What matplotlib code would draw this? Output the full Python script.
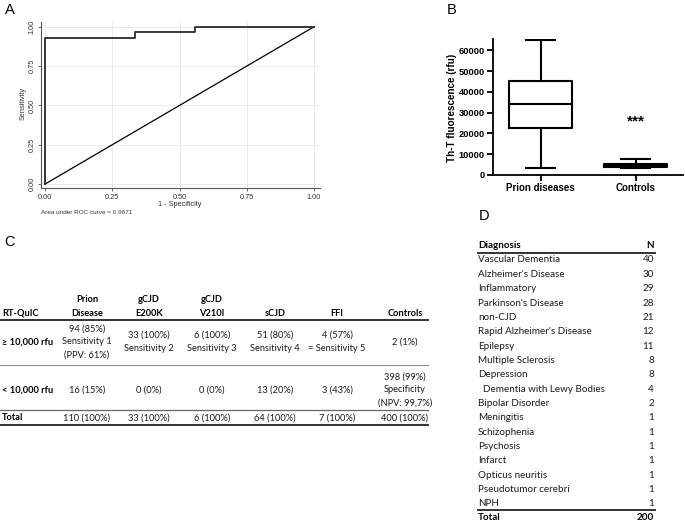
import matplotlib
matplotlib.use("Agg")
import matplotlib.pyplot as plt
import numpy as np

# ---------------- data ----------------
# Panel A: ROC curve
roc_fpr = [0.0, 0.0, 0.333, 0.333, 0.556, 0.556, 1.0]
roc_tpr = [0.0, 0.927, 0.927, 0.964, 0.964, 1.0, 1.0]
ref_x = [0.0, 1.0]
ref_y = [0.0, 1.0]
roc_ticks = [0.0, 0.25, 0.5, 0.75, 1.0]
auc_text = "Area under ROC curve = 0.9671"

# Panel B: box plot summary
box_labels = ["Prion diseases", "Controls"]
box_whislo = [3500, 3300]
box_q1 = [22700, 3800]
box_med = [34100, 4600]
box_q3 = [45100, 5400]
box_whishi = [64900, 7700]
box_yticks = [0, 10000, 20000, 30000, 40000, 50000, 60000]
sig_label = "***"
sig_value = 25600

# Panel C: table
c_header_top = ["", "Prion", "gCJD", "gCJD", "", "", ""]
c_header_bottom = ["RT-QuIC", "Disease", "E200K", "V210I", "sCJD", "FFI", "Controls"]
c_row_labels = ["\u2265 10,000 rfu", "< 10,000 rfu", "Total"]
c_row1 = ["94 (85%)\nSensitivity 1\n(PPV: 61%)", "33 (100%)\nSensitivity 2",
          "6 (100%)\nSensitivity 3", "51 (80%)\nSensitivity 4",
          "4 (57%)\n= Sensitivity 5", "2 (1%)"]
c_row2 = ["16 (15%)", "0 (0%)", "0 (0%)", "13 (20%)", "3 (43%)",
          "398 (99%)\nSpecificity\n(NPV: 99,7%)"]
c_total = ["110 (100%)", "33 (100%)", "6 (100%)", "64 (100%)", "7 (100%)", "400 (100%)"]

# Panel D: table
d_header = ["Diagnosis", "N"]
d_diagnosis = ["Vascular Dementia", "Alzheimer's Disease", "Inflammatory",
               "Parkinson's Disease", "non-CJD", "Rapid Alzheimer's Disease",
               "Epilepsy", "Multiple Sclerosis", "Depression",
               "  Dementia with Lewy Bodies", "Bipolar Disorder", "Meningitis",
               "Schizophenia", "Psychosis", "Infarct", "Opticus neuritis",
               "Pseudotumor cerebri", "NPH"]
d_n = [40, 30, 29, 28, 21, 12, 11, 8, 8, 4, 2, 1, 1, 1, 1, 1, 1, 1]
d_total_label = "Total"
d_total = 200

panel_labels = ["A", "B", "C", "D"]

# ---------------- figure ----------------
W, H = 685, 522
fig = plt.figure(figsize=(W / 100, H / 100), dpi=100)
ov = fig.add_axes([0, 0, 1, 1])
ov.set_xlim(0, W)
ov.set_ylim(H, 0)
ov.axis("off")


def ax_px(l, t, r, b):
    return fig.add_axes([l / W, 1 - b / H, (r - l) / W, (b - t) / H])


arial = "Liberation Sans"
calibri = "Lato"

# panel labels
for lab, (px, py) in zip(panel_labels, [(10, 10), (452, 10), (10, 242), (484, 216)]):
    ov.text(px, py, lab, fontsize=10.5, family=arial, ha="center", va="center")

# ---------------- Panel A ----------------
axA = ax_px(41, 22, 320, 188)
axA.set_xlim(-0.015, 1.022)
axA.set_ylim(-0.025, 1.03)
axA.plot(ref_x, ref_y, color="black", lw=0.9, zorder=3)
axA.plot(roc_fpr, roc_tpr, color="#2a2a2a", lw=1.3, zorder=4)
axA.set_xticks(roc_ticks)
axA.set_yticks(roc_ticks)
axA.set_xticklabels(["%.2f" % t for t in roc_ticks], family=arial)
axA.set_yticklabels(["%.2f" % t for t in roc_ticks], family=arial,
                    rotation=90, va="center")
axA.grid(True, color="#e8e8e8", lw=0.6)
axA.set_axisbelow(True)
for s in ["top", "right"]:
    axA.spines[s].set_visible(False)
for s in ["left", "bottom"]:
    axA.spines[s].set_color("#555555")
    axA.spines[s].set_linewidth(0.8)
axA.tick_params(labelsize=5.3, length=2.5, width=0.6, color="#555555", pad=1.5,
                labelcolor="#333333")
ov.text(180, 204, "1 - Specificity", fontsize=5.3, family=arial, ha="center",
        va="center", color="#333333")
ov.text(23, 103, "Sensitivity", fontsize=5.3, family=arial, ha="center",
        va="center", rotation=90, color="#333333")
ov.text(41, 213, auc_text, fontsize=4.6, family=arial, ha="left", va="center",
        color="#333333")

# ---------------- Panel B ----------------
axB = ax_px(493, 39, 683, 175)
stats = []
for i in range(len(box_labels)):
    stats.append(dict(label=box_labels[i], whislo=box_whislo[i], q1=box_q1[i],
                      med=box_med[i], q3=box_q3[i], whishi=box_whishi[i]))
lw = 1.5
axB.bxp(stats, positions=[1, 2], widths=0.67, capwidths=0.3, showfliers=False,
        boxprops=dict(color="black", lw=lw), whiskerprops=dict(color="black", lw=lw),
        capprops=dict(color="black", lw=lw), medianprops=dict(color="black", lw=lw))
axB.set_xlim(0.5, 2.5)
axB.set_ylim(0, 65500)
axB.set_yticks(box_yticks)
axB.set_yticklabels([str(v) for v in box_yticks], family=arial, fontweight="bold",
                    fontsize=6.7)
axB.set_xticklabels(box_labels, family=arial, fontweight="bold", fontsize=7.0)
for s in ["top", "right"]:
    axB.spines[s].set_visible(False)
for s in ["left", "bottom"]:
    axB.spines[s].set_linewidth(1.3)
axB.tick_params(length=4, width=1.3, pad=2)
axB.text(2, sig_value, sig_label, fontsize=11, fontweight="bold", family=arial,
         ha="center", va="center")
ov.text(452, 108, "Th-T fluorescence (rfu)", fontsize=7.1, fontweight="bold",
        family=arial, ha="center", va="center", rotation=90)

# ---------------- Panel C ----------------
c_x = [2, 87, 149, 212, 275, 337, 405]
fs = 6.7
ls = 1.55
for i in range(len(c_header_bottom)):
    ha = "left" if i == 0 else "center"
    if c_header_top[i]:
        ov.text(c_x[i], 299, c_header_top[i], fontsize=fs, family=calibri,
                fontweight="bold", ha=ha, va="center")
    ov.text(c_x[i], 313, c_header_bottom[i], fontsize=fs, family=calibri,
            fontweight="bold", ha=ha, va="center")
row_y = [342, 390, 418]
rows = [c_row1, c_row2, c_total]
for r in range(3):
    ov.text(c_x[0], row_y[r], c_row_labels[r], fontsize=fs, family=calibri,
            fontweight="bold", ha="left", va="center")
    for j, txt in enumerate(rows[r]):
        ov.text(c_x[j + 1], row_y[r], txt, fontsize=fs, family=calibri,
                ha="center", va="center", linespacing=ls, color="#1a1a1a")
ov.plot([0, 428], [320, 320], color="#333333", lw=1.4)
ov.plot([0, 428], [365, 365], color="#888888", lw=0.8)
ov.plot([0, 428], [410, 410], color="#666666", lw=0.9)
ov.plot([0, 428], [424.5, 424.5], color="#333333", lw=1.4)

# ---------------- Panel D ----------------
fd = 7.1
dl, dr = 478, 654
ov.text(dl, 245, d_header[0], fontsize=fd, family=calibri, fontweight="bold",
        ha="left", va="center")
ov.text(dr, 245, d_header[1], fontsize=fd, family=calibri, fontweight="bold",
        ha="right", va="center")
for i, (name, n) in enumerate(zip(d_diagnosis, d_n)):
    y = 260 + i * 14.35
    ov.text(dl, y, name, fontsize=fd, family=calibri, ha="left", va="center",
            color="#1a1a1a")
    ov.text(dr, y, str(n), fontsize=fd, family=calibri, ha="right", va="center",
            color="#1a1a1a")
ov.text(dl, 517, d_total_label, fontsize=fd, family=calibri, fontweight="bold",
        ha="left", va="center")
ov.text(dr, 517, str(d_total), fontsize=fd, family=calibri, fontweight="bold",
        ha="right", va="center")
ov.plot([dl, dr + 1], [252.7, 252.7], color="#333333", lw=1.4)
ov.plot([dl, dr + 1], [509.5, 509.5], color="#333333", lw=1.4)

fig.savefig("out.png", dpi=100)
